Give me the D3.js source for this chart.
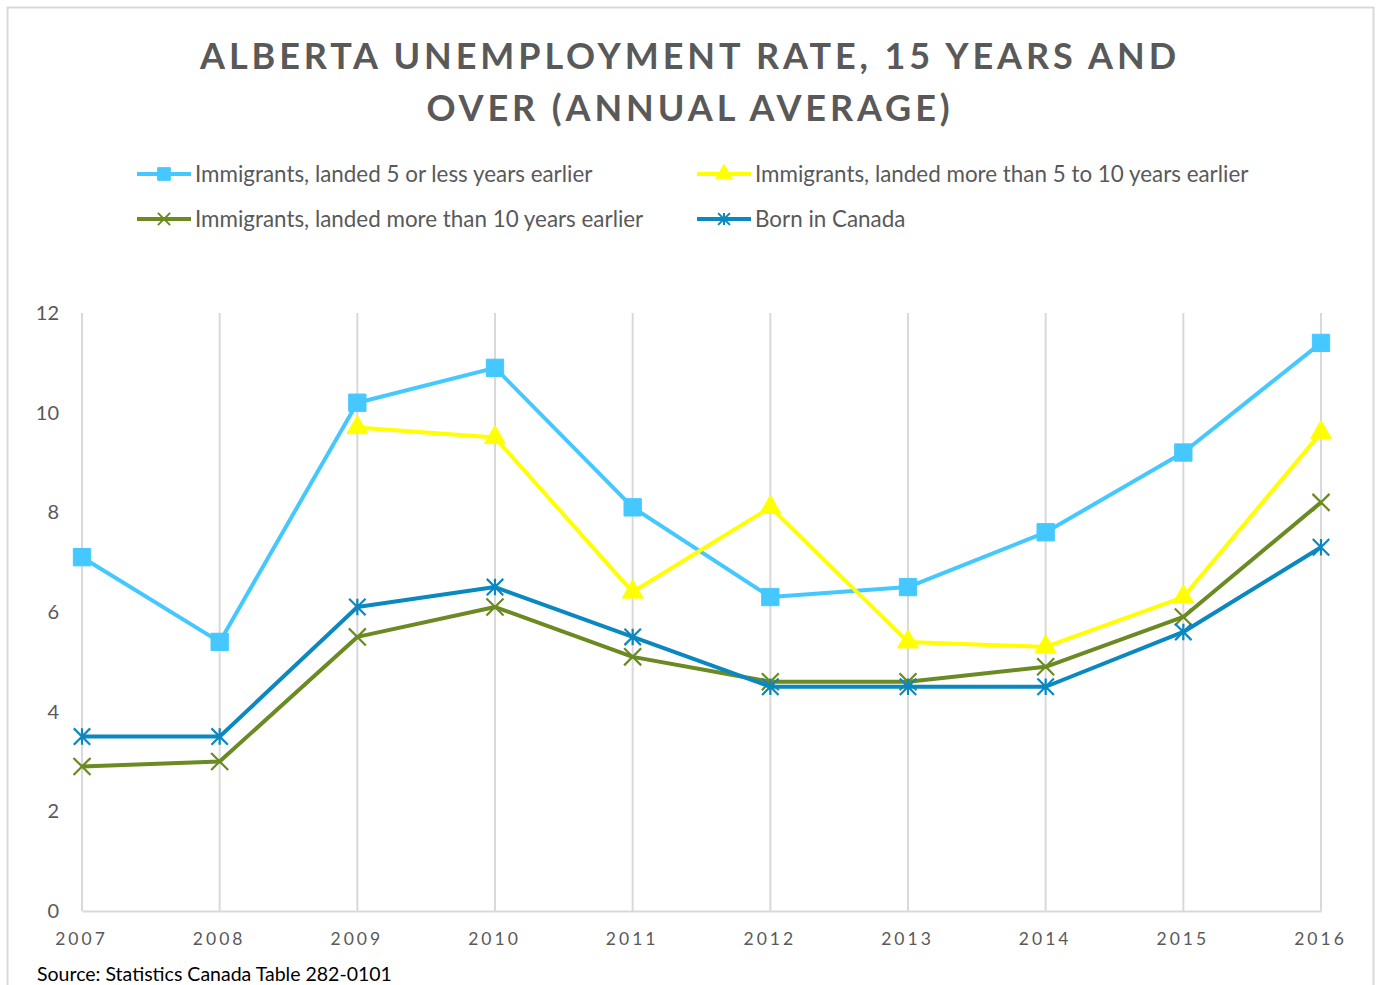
<!DOCTYPE html>
<html>
<head>
<meta charset="utf-8">
<script src="https://cdn.jsdelivr.net/npm/d3@7"></script>
<style>
  html, body { margin: 0; padding: 0; background: #fff; }
  svg { display: block; }
</style>
</head>
<body>
<svg id="chart" width="1380" height="985"></svg>
<script>
// Annual averages, Alberta, persons 15 years and over
const years = [2007, 2008, 2009, 2010, 2011, 2012, 2013, 2014, 2015, 2016];
const landed5OrLess = [7.1, 5.4, 10.2, 10.9, 8.1, 6.3, 6.5, 7.6, 9.2, 11.4];
const landed5To10 = [null, null, 9.7, 9.5, 6.4, 8.1, 5.4, 5.3, 6.3, 9.6];
const landedOver10 = [2.9, 3.0, 5.5, 6.1, 5.1, 4.6, 4.6, 4.9, 5.9, 8.2];
const bornInCanada = [3.5, 3.5, 6.1, 6.5, 5.5, 4.5, 4.5, 4.5, 5.6, 7.3];
const yTicks = [0, 2, 4, 6, 8, 10, 12];

const titleLines = ["ALBERTA UNEMPLOYMENT RATE, 15 YEARS AND", "OVER (ANNUAL AVERAGE)"];
const sourceNote = "Source: Statistics Canada Table 282-0101";

// star marker: an X crossed by a vertical stroke
const symbolStar = {
  draw(context, size) {
    const r = Math.sqrt(size) / 2;
    context.moveTo(-r, -r); context.lineTo(r, r);
    context.moveTo(-r, r); context.lineTo(r, -r);
    context.moveTo(0, -r); context.lineTo(0, r);
  }
};
// plain X marker
const symbolCross = {
  draw(context, size) {
    const r = Math.sqrt(size) / 2;
    context.moveTo(-r, -r); context.lineTo(r, r);
    context.moveTo(-r, r); context.lineTo(r, -r);
  }
};

const series = [
  { name: "Immigrants, landed 5 or less years earlier", values: landed5OrLess, color: "#45C8FF", symbol: d3.symbolSquare, size: 300, legendSize: 160, filled: true },
  { name: "Immigrants, landed more than 5 to 10 years earlier", values: landed5To10, color: "#FFFF00", symbol: d3.symbolTriangle, size: 190, legendSize: 120, filled: true },
  { name: "Immigrants, landed more than 10 years earlier", values: landedOver10, color: "#6B8A22", symbol: symbolCross, size: 290, legendSize: 150, filled: false },
  { name: "Born in Canada", values: bornInCanada, color: "#0A88BF", symbol: symbolStar, size: 270, legendSize: 140, filled: false }
];

const font = "Lato, 'Open Sans', sans-serif";
const textGrey = "#595959";
const gridGrey = "#D9D9D9";

const svg = d3.select("#chart");

// outer chart frame
svg.append("rect")
  .attr("x", 7.5).attr("y", 7.5)
  .attr("width", 1366).attr("height", 1000)
  .attr("fill", "#fff")
  .attr("stroke", gridGrey).attr("stroke-width", 2);

// title
svg.append("g").selectAll("text")
  .data(titleLines)
  .join("text")
  .attr("x", 690)
  .attr("y", (d, i) => 69 + i * 52)
  .attr("text-anchor", "middle")
  .attr("font-family", font)
  .attr("font-weight", "bold")
  .attr("font-size", 36)
  .attr("letter-spacing", 3.9)
  .attr("fill", textGrey)
  .text(d => d);

// scales
const x = d3.scaleLinear().domain([2007, 2016]).range([82, 1321]);
const y = d3.scaleLinear().domain([0, 12]).range([911, 313]);

// vertical gridlines at each year
svg.append("g").selectAll("line")
  .data(years)
  .join("line")
  .attr("x1", d => x(d)).attr("x2", d => x(d))
  .attr("y1", y(12)).attr("y2", y(0))
  .attr("stroke", gridGrey).attr("stroke-width", 2);

// x axis
const xAxis = svg.append("g")
  .attr("transform", `translate(0,${y(0)})`)
  .call(d3.axisBottom(x).tickValues(years).tickFormat(d3.format("d")).tickSize(0).tickPadding(22));
xAxis.select(".domain").attr("stroke", gridGrey).attr("stroke-width", 2);
xAxis.selectAll("text")
  .attr("font-family", font)
  .attr("font-size", 17.5)
  .attr("letter-spacing", 3)
  .attr("dx", -1)
  .attr("fill", textGrey);

// y axis labels
const yAxis = svg.append("g")
  .attr("transform", `translate(59,0)`)
  .call(d3.axisLeft(y).tickValues(yTicks).tickSize(0).tickPadding(0));
yAxis.select(".domain").remove();
yAxis.selectAll("text")
  .attr("font-family", font)
  .attr("font-size", 20)
  .attr("fill", textGrey);

// series lines and markers
const line = d3.line()
  .defined(d => d.v !== null)
  .x(d => x(d.year))
  .y(d => y(d.v));

series.forEach(s => {
  const pts = years.map((year, i) => ({ year, v: s.values[i] }));
  const g = svg.append("g");
  g.append("path")
    .datum(pts)
    .attr("d", line)
    .attr("fill", "none")
    .attr("stroke", s.color)
    .attr("stroke-width", 4)
    .attr("stroke-linejoin", "round");
  g.selectAll("path.marker")
    .data(pts.filter(d => d.v !== null))
    .join("path")
    .attr("class", "marker")
    .attr("transform", d => `translate(${x(d.year)},${y(d.v)})`)
    .attr("d", d3.symbol(s.symbol, s.size))
    .attr("fill", s.filled ? s.color : "none")
    .attr("stroke", s.color)
    .attr("stroke-width", s.filled ? 1 : 2.2);
});

// legend
const legendPos = [
  { lx: 137, ly: 174 },
  { lx: 697, ly: 174 },
  { lx: 137, ly: 219 },
  { lx: 697, ly: 219 }
];
const legend = svg.append("g").selectAll("g")
  .data(series)
  .join("g")
  .attr("transform", (d, i) => `translate(${legendPos[i].lx},${legendPos[i].ly})`);
legend.append("line")
  .attr("x1", 0).attr("x2", 54)
  .attr("stroke", d => d.color).attr("stroke-width", 4);
legend.append("path")
  .attr("transform", "translate(27,0)")
  .attr("d", d => d3.symbol(d.symbol, d.legendSize)())
  .attr("fill", d => d.filled ? d.color : "none")
  .attr("stroke", d => d.color)
  .attr("stroke-width", d => d.filled ? 1 : 2);
legend.append("text")
  .attr("x", 58)
  .attr("dy", "0.35em")
  .attr("font-family", font)
  .attr("font-size", 22.4)
  .attr("fill", textGrey)
  .text(d => d.name);

// source note
svg.append("text")
  .attr("x", 37).attr("y", 981)
  .attr("font-family", font)
  .attr("font-size", 19.5)
  .attr("fill", "#000")
  .text(sourceNote);
</script>
</body>
</html>
